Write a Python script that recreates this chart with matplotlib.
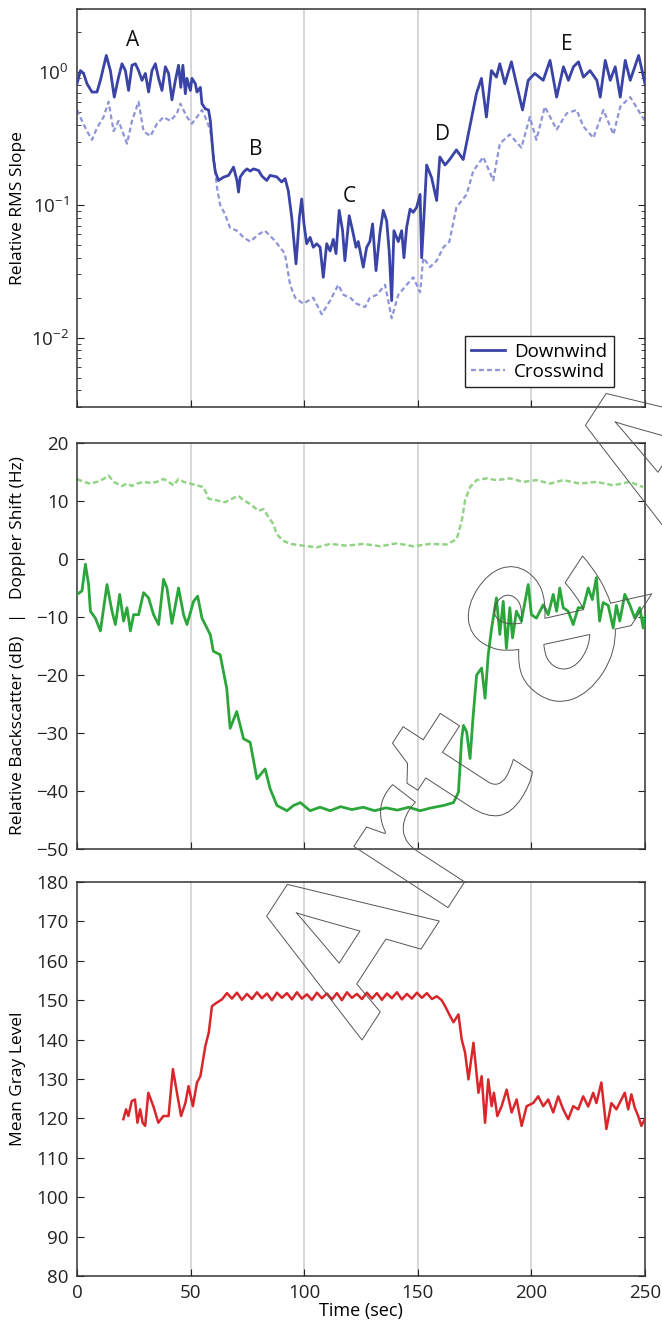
import matplotlib
matplotlib.use("Agg")
import matplotlib.pyplot as plt
import matplotlib.patheffects as pe
from matplotlib.ticker import LogLocator, NullFormatter, MultipleLocator

plt.rcParams["font.family"] = ["Open Sans", "DejaVu Sans"]
plt.rcParams["mathtext.fontset"] = "custom"
plt.rcParams["mathtext.rm"] = "Open Sans"
plt.rcParams["mathtext.it"] = "Open Sans:italic"

# --- Panel 1: relative RMS slope (log scale) ---
down_t = [0, 1.5, 2.9, 4.4, 6.6, 8.8, 10.3, 12.9, 14.7, 16.4, 18.3, 19.8, 21.3, 22.7,
          24.2, 25.7, 27.1, 28.6, 30.1, 31.5, 33.0, 34.5, 35.9, 37.4, 38.9, 40.3, 41.8,
          43.3, 44.7, 45.7, 46.6, 47.7, 48.4, 49.9, 50.6, 52.1, 52.8, 54.3, 55.0, 56.5,
          57.9, 58.7, 59.4, 60.1, 60.9, 62.3, 64.5, 66.7, 68.9, 70.4, 71.1, 71.8, 73.3,
          74.8, 76.2, 77.7, 79.9, 81.4, 83.5, 85.0, 87.9, 90.1, 91.6, 93.0, 94.5, 96.4,
          97.9, 98.9, 99.9, 101.1, 102.6, 104.0, 105.5, 107.0, 108.4, 109.9, 111.4, 112.8,
          114.0, 115.4, 116.9, 117.9, 119.8, 121.3, 122.8, 123.8, 126.0, 127.5, 128.9,
          130.1, 131.6, 133.3, 134.8, 136.3, 137.4, 138.5, 139.5, 141.4, 142.9, 143.9,
          145.1, 146.6, 148.0, 149.5, 151.0, 151.7, 152.7, 153.9, 156.1, 158.3, 159.7,
          162.0, 164.0, 167.0, 170.0, 172.9, 175.8, 178.0, 180.2, 182.4, 184.6, 186.1,
          188.3, 191.2, 193.4, 196.1, 198.6, 201.5, 205.2, 208.2, 211.1, 214.1, 216.3,
          218.5, 220.7, 222.9, 225.8, 228.8, 230.3, 232.5, 234.7, 236.9, 239.1, 241.3,
          243.5, 247.2, 250]
down_v = [0.82, 1.03, 0.98, 0.82, 0.71, 0.71, 0.87, 1.34, 1.03, 0.65, 0.92, 1.16, 1.03, 0.73,
          1.13, 1.16, 1.03, 0.87, 0.98, 0.71, 1.03, 1.16, 0.90, 0.73, 1.10, 0.98, 0.62,
          0.87, 1.13, 0.77, 1.13, 0.69, 0.90, 0.73, 0.90, 0.82, 0.71, 0.77, 0.58, 0.53,
          0.52, 0.43, 0.31, 0.22, 0.177, 0.153, 0.162, 0.167, 0.193, 0.153, 0.125, 0.162, 0.177,
          0.187, 0.18, 0.187, 0.182, 0.165, 0.153, 0.167, 0.163, 0.149, 0.158, 0.128, 0.081, 0.036,
          0.081, 0.111, 0.072, 0.051, 0.057, 0.048, 0.051, 0.048, 0.0285, 0.051, 0.045, 0.055,
          0.043, 0.091, 0.064, 0.038, 0.083, 0.064, 0.048, 0.053, 0.034, 0.048, 0.053,
          0.072, 0.032, 0.061, 0.091, 0.076, 0.045, 0.019, 0.064, 0.053, 0.064, 0.040,
          0.068, 0.093, 0.088, 0.096, 0.12, 0.040, 0.081, 0.20, 0.16, 0.108, 0.23,
          0.20, 0.22, 0.26, 0.22, 0.39, 0.69, 0.90, 0.46, 1.03, 0.92, 1.16,
          0.82, 1.20, 0.82, 0.52, 0.87, 0.98, 0.87, 1.23, 0.65, 1.10, 0.87,
          1.10, 1.20, 0.92, 1.03, 0.87, 0.65, 1.23, 0.87, 1.10, 0.65, 1.23,
          0.87, 1.34, 0.82]

cross_t = [0, 2.2, 4.4, 6.6, 8.8, 11.7, 13.9, 16.1, 18.3, 22.0, 24.2, 27.1, 29.3, 32.3, 35.2,
           38.1, 41.1, 44.0, 45.5, 48.4, 50.6, 52.8, 55.0, 57.2, 58.7, 60.1, 61.6, 63.0, 65.2,
           67.4, 70.4, 73.3, 76.2, 79.9, 82.7, 87.0, 91.5, 93.8, 96.0, 99.6, 104.0, 107.7,
           111.4, 115.0, 117.3, 120.2, 123.1, 126.8, 128.9, 131.9, 135.6, 138.5, 141.4, 145.1,
           148.0, 151.0, 152.4, 155.4, 158.3, 161.3, 163.9, 167.0, 171.5, 174.4, 178.8, 183.2,
           186.1, 190.5, 195.6, 199.3, 202.2, 205.9, 211.1, 215.5, 219.9, 222.9, 227.3, 231.7,
           236.1, 239.1, 243.5, 247.9, 250]
cross_v = [0.52, 0.43, 0.36, 0.31, 0.38, 0.46, 0.60, 0.36, 0.43, 0.29, 0.43, 0.60, 0.36, 0.33, 0.41,
           0.46, 0.43, 0.49, 0.58, 0.46, 0.41, 0.46, 0.52, 0.43, 0.36, 0.24, 0.136, 0.10, 0.085,
           0.067, 0.064, 0.057, 0.053, 0.060, 0.064, 0.054, 0.043, 0.025, 0.020, 0.018, 0.020, 0.015,
           0.019, 0.025, 0.021, 0.020, 0.018, 0.017, 0.020, 0.021, 0.025, 0.014, 0.021, 0.025,
           0.0285, 0.022, 0.040, 0.034, 0.038, 0.048, 0.053, 0.096, 0.12, 0.18, 0.23, 0.153,
           0.29, 0.34, 0.27, 0.46, 0.31, 0.55, 0.37, 0.49, 0.52, 0.39, 0.32, 0.52,
           0.34, 0.55, 0.65, 0.49, 0.43]

region_labels = ["A", "B", "C", "D", "E"]
region_t = [24.6, 78.8, 119.7, 161.0, 215.7]
region_v = [1.74, 0.26, 0.116, 0.34, 1.63]

# --- Panel 2: Doppler shift and backscatter ---
dop_t = [0, 2.9, 5.9, 8.8, 11.7, 13.9, 16.1, 19.8, 22.0, 24.2, 26.4, 29.3, 32.3, 35.2, 38.1,
         40.3, 42.5, 44.7, 46.9, 49.9, 52.8, 55.7, 57.9, 61.6, 65.2, 68.2, 71.1, 73.3, 76.2,
         79.9, 82.1, 84.3, 86.5, 87.9, 90.5, 93.8, 99.6, 105.5, 111.4, 118.7, 126.0, 133.4,
         140.7, 148.0, 155.4, 162.7, 167.1, 169.3, 170.8, 173.0, 175.9, 180.3, 184.6, 190.5,
         196.4, 202.2, 208.1, 214.0, 221.3, 228.6, 236.0, 243.3, 249.2]
dop_v = [13.8, 13.3, 13.0, 13.3, 13.8, 14.4, 13.3, 12.6, 13.0, 12.6, 13.0, 13.3, 13.1, 13.3, 13.8,
         13.3, 12.7, 13.8, 13.3, 13.0, 12.7, 12.4, 10.4, 10.1, 9.8, 10.4, 10.9, 10.1, 9.5,
         8.3, 8.6, 7.2, 6.0, 4.3, 3.2, 2.6, 2.3, 2.0, 2.6, 2.3, 2.6, 2.2,
         2.7, 2.2, 2.6, 2.5, 3.4, 6.5, 10.1, 12.4, 13.6, 13.9, 13.6, 13.9,
         13.3, 13.6, 13.0, 13.6, 13.0, 13.3, 12.7, 13.3, 12.4]

bs_t = [0, 2.2, 3.7, 5.1, 5.9, 8.1, 10.3, 13.2, 15.4, 16.9, 18.8, 20.5, 22.0, 23.5, 24.9, 27.1,
        29.3, 31.5, 33.7, 35.9, 38.1, 39.6, 41.8, 44.7, 46.9, 48.4, 51.3, 53.1, 55.0, 57.2,
        58.7, 60.0, 63.0, 65.9, 67.4, 70.3, 73.3, 76.2, 79.2, 82.8, 85.0, 88.0, 92.4, 95.3,
        98.3, 102.6, 107.0, 111.4, 116.0, 121.0, 126.0, 131.0, 136.0, 141.0, 146.0, 151.0,
        156.0, 161.3, 165.7, 167.9, 169.3, 170.1, 171.5, 173.0, 174.4, 175.9, 178.1, 179.6,
        181.0, 182.5, 183.2, 184.6, 186.1, 187.6, 189.0, 190.5, 191.7, 193.4, 195.6, 198.6,
        200.0, 202.2, 205.2, 207.4, 209.6, 211.1, 212.5, 214.0, 216.2, 218.4, 220.6, 222.8,
        225.0, 226.8, 228.6, 230.0, 231.6, 233.8, 236.0, 237.4, 238.9, 241.1, 243.3, 245.5,
        247.7, 249.2, 250]
bs_v = [-6.1, -5.5, -0.9, -4.4, -9.0, -10.2, -12.4, -4.4, -9.0, -11.3, -6.1, -10.7, -8.4, -12.4,
        -9.6, -9.6, -5.8, -6.7, -9.6, -11.3, -3.5, -5.0, -11.1, -5.0, -9.6, -11.3, -7.3, -6.4,
        -10.2, -11.9, -13.1, -15.9, -16.5, -22.3, -29.2, -26.3, -31.0, -31.6, -37.9, -36.2,
        -39.6, -42.5, -43.4, -42.5, -42.0, -43.4, -42.8, -43.4, -42.7, -43.2, -42.8, -43.4,
        -42.9, -43.3, -42.8, -43.4, -42.9, -42.5, -42.0, -40.2, -31.0, -28.7, -29.8, -34.4,
        -26.9, -20.0, -18.8, -24.0, -16.5, -11.9, -10.2, -6.7, -13.0, -7.3, -15.4, -8.4,
        -13.6, -9.0, -10.7, -4.4, -9.6, -10.2, -7.9, -9.6, -6.1, -9.0, -5.0, -8.4, -9.0,
        -11.3, -8.4, -8.4, -5.0, -7.0, -3.2, -10.7, -7.5, -8.0, -11.9, -8.0, -10.7, -6.1,
        -7.9, -10.2, -8.4, -11.9, -10.0]

# --- Panel 3: mean gray level ---
gray_t = [20.4, 21.6, 22.6, 24.1, 25.5, 26.6, 27.8, 28.9, 30.0, 31.4, 33.6, 35.8, 38.0, 40.3,
          42.2, 44.0, 45.8, 47.7, 49.1, 51.0, 52.8, 54.3, 56.5, 58.0, 59.4, 61.6,
          63.8, 66.0, 68.2, 70.4, 72.6, 74.8, 77.0, 79.2, 81.4, 83.6, 85.8, 88.0, 90.2, 92.4,
          94.6, 96.8, 99.0, 101.2, 103.4, 105.6, 107.8, 110.0, 112.2, 114.4, 116.6, 118.8,
          121.0, 123.2, 125.4, 127.6, 129.8, 132.0, 134.2, 136.4, 138.6, 140.8, 143.0, 145.2,
          147.4, 149.6, 151.8, 154.0, 156.2, 158.4,
          160.5, 162.0, 164.2, 165.7, 167.9, 169.3, 170.8, 172.3, 174.5, 176.7, 178.1, 179.6,
          181.0, 182.5, 183.5, 185.0, 186.9, 189.1, 191.3, 193.5, 195.7, 197.9, 200.8, 203.0,
          205.2, 207.4, 209.6, 211.8, 214.0, 216.2, 218.4, 220.6, 222.8, 225.0, 227.2, 228.6,
          230.8, 233.0, 235.2, 237.4, 239.6, 241.1, 242.6, 244.0, 245.5, 247.0, 248.4, 249.9]
gray_v = [119.8, 122.3, 120.6, 124.4, 124.8, 118.9, 122.3, 118.9, 118.1, 126.5, 123.1, 118.9,
          120.6, 120.6, 132.5, 126.5, 120.6, 123.9, 128.2, 123.1, 129.1, 130.7, 138.4, 141.8,
          148.5, 149.4,
          150.2, 151.8, 150.4, 151.9, 150.1, 151.6, 150.3, 152.0, 150.5, 151.7, 150.0, 151.9,
          150.6, 151.8, 150.2, 152.0, 150.4, 151.5, 150.1, 151.9, 150.5, 151.7, 150.2, 151.8,
          150.0, 152.0, 150.6, 151.6, 150.3, 151.9, 150.4, 151.8, 150.1, 151.7, 150.5, 152.0,
          150.2, 151.6, 150.4, 151.9, 150.6, 151.8, 150.3, 151.0,
          150.0, 148.5, 146.0, 144.4, 146.4, 140.1, 136.7, 129.9, 139.2, 126.5, 130.7, 118.9,
          129.9, 123.1, 126.5, 120.6, 123.1, 127.3, 121.5, 124.8, 118.1, 123.1, 123.9, 125.6,
          123.1, 124.8, 121.5, 125.6, 122.3, 119.8, 123.1, 122.3, 125.6, 123.0, 126.5, 123.9,
          129.1, 117.3, 123.9, 122.3, 124.8, 126.5, 122.3, 126.1, 122.7, 120.6, 118.1, 119.8]

GRID_T = [50, 100, 150, 200]
W, H = 662, 1325


def px_axes(fig, left, top, right, bottom):
    return fig.add_axes([left / W, 1 - bottom / H, (right - left) / W, (bottom - top) / H])


def style_axes(ax):
    ax.set_xlim(0, 250)
    for t in GRID_T:
        ax.axvline(t, color="#d4d4d4", lw=1.3, zorder=0)
    for sp in ax.spines.values():
        sp.set_color("#333333")
        sp.set_linewidth(1.1)
    ax.tick_params(which="both", direction="in", left=True, right=True, top=False,
                   bottom=True, labelsize=13.5, colors="#222222", pad=6)
    ax.tick_params(which="major", length=5)
    ax.tick_params(which="minor", length=3)
    ax.xaxis.set_major_locator(MultipleLocator(50))
    ax.yaxis.set_label_coords(-0.09, 0.5)


fig = plt.figure(figsize=(W / 100, H / 100), dpi=100)

# Panel 1
ax1 = px_axes(fig, 77, 9, 645, 407)
style_axes(ax1)
ax1.set_yscale("log")
ax1.set_ylim(0.003, 3.0)
ax1.yaxis.set_major_locator(LogLocator(base=10, numticks=10))
ax1.yaxis.set_minor_locator(LogLocator(base=10, subs=range(2, 10), numticks=20))
ax1.yaxis.set_minor_formatter(NullFormatter())
ax1.plot(down_t, down_v, color="#3a43a6", lw=2.0, label="Downwind", zorder=3)
ax1.plot(cross_t, cross_v, color="#8f93d8", lw=1.6, ls=(0, (2.2, 1.4)), label="Crosswind", zorder=2)
for lab, t, v in zip(region_labels, region_t, region_v):
    ax1.text(t, v, lab, fontsize=15, ha="center", va="center", color="#111111")
ax1.set_ylabel("Relative RMS Slope", fontsize=12.5)
ax1.tick_params(labelbottom=False)
leg = ax1.legend(loc="lower right", bbox_to_anchor=(0.945, 0.05), borderaxespad=0,
                 fontsize=13.5, frameon=True, fancybox=False, framealpha=1,
                 edgecolor="#222222", handlelength=1.8, handletextpad=0.5,
                 labelspacing=0.1, borderpad=0.35)
leg.get_frame().set_linewidth(1.0)

# Panel 2
ax2 = px_axes(fig, 77, 443, 645, 849)
style_axes(ax2)
ax2.set_ylim(-50, 20)
ax2.yaxis.set_major_locator(MultipleLocator(10))
ax2.plot(dop_t, dop_v, color="#93d386", lw=1.8, ls=(0, (2.2, 1.2)), zorder=2)
ax2.plot(bs_t, bs_v, color="#2ba63b", lw=2.0, zorder=3)
ax2.set_ylabel("Relative Backscatter (dB)   |   Doppler Shift (Hz)", fontsize=12.5)
ax2.tick_params(labelbottom=False)

# Panel 3
ax3 = px_axes(fig, 77, 882, 645, 1276)
style_axes(ax3)
ax3.set_ylim(80, 180)
ax3.yaxis.set_major_locator(MultipleLocator(10))
ax3.plot(gray_t, gray_v, color="#d9262b", lw=1.8, zorder=3)
ax3.set_ylabel("Mean Gray Level", fontsize=12.5)
ax3.set_xlabel("Time (sec)", fontsize=13, labelpad=0)

# outlined watermark over the figure
fig.text(362 / W, 1 - 1040 / H, "Art & A", fontsize=148, fontweight="bold", rotation=57,
         rotation_mode="anchor", ha="left", va="baseline", color="none",
         path_effects=[pe.Stroke(linewidth=0.7, foreground="#555555")], zorder=10)

fig.savefig("out.png", dpi=100, facecolor="white")
